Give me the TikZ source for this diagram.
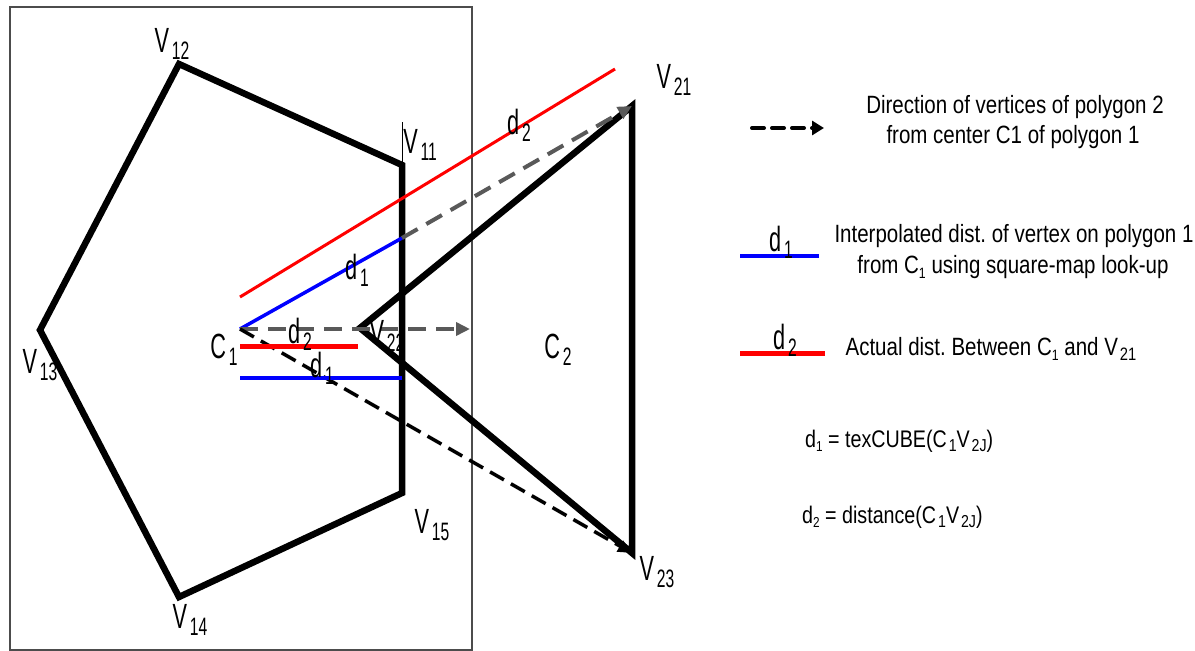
\documentclass[tikz,border=0pt]{standalone}
\usepackage{fontspec}
\setmainfont{Liberation Sans}[FakeStretch=0.82]
\newfontfamily\lblfont{Liberation Sans}[FakeStretch=0.62]
\usetikzlibrary{arrows.meta}
\frenchspacing
\newcommand\lsub[1]{\kern0.08em\raisebox{-0.2em}{\scalebox{0.72}{#1}}}
\newcommand\tsub[1]{\raisebox{-0.2em}{\scalebox{0.6}{#1}}}
\begin{document}
\begin{tikzpicture}[x=1pt,y=-1pt,
  poly/.style={line width=6.5pt,line join=miter,black},
  lbl/.style={font=\lblfont\fontsize{35}{38}\selectfont,inner sep=0pt},
  ltxt/.style={font=\fontsize{25}{28}\selectfont,inner sep=0pt,anchor=base},
  ftxt/.style={font=\fontsize{24}{28}\selectfont,inner sep=0pt,anchor=base west},
  graydash/.style={draw=black!65,line width=4pt,dash pattern=on 18pt off 10pt,-{Triangle[length=14pt,width=13pt]}},
  blackdash/.style={draw=black,line width=3.5pt,dash pattern=on 16pt off 8pt,-{Triangle[length=14pt,width=12pt]}},
  redl/.style={draw=red,line width=3pt},
  bluel/.style={draw=blue,line width=3.5pt}]
\useasboundingbox (0,0) rectangle (1195,651);
\fill[white] (0,0) rectangle (1195,651);
% frame
\draw[black!70,line width=1.2pt] (10,7) rectangle (472,650);
% coordinates
\coordinate (V11) at (402,165);
\coordinate (V12) at (179,64);
\coordinate (V13) at (40,330);
\coordinate (V14) at (179,597);
\coordinate (V15) at (402,493);
\coordinate (V21) at (632,106);
\coordinate (V22) at (360,328);
\coordinate (V23) at (632,553);
\coordinate (C1) at (240,329);
\coordinate (B1) at (402,238);
\coordinate (H1) at (470,329);
\coordinate (R1) at (240,297);
\coordinate (R2) at (615,69);
\coordinate (RH1) at (240,346);
\coordinate (RH2) at (358,346);
\coordinate (BH1) at (240,378);
\coordinate (BH2) at (402,378);
\coordinate (T1) at (402,122);
% polygons
\draw[poly] (V11)--(V12)--(V13)--(V14)--(V15)--cycle;
\draw[poly] (V21)--(V22)--(V23)--cycle;
\draw[black,line width=0.8pt] (T1)--(V11);
% distance lines
\draw[redl] (R1)--(R2);
\draw[bluel] (C1)--(B1);
\draw[graydash] (B1)--(V21);
\draw[graydash] (C1)--(H1);
\draw[blackdash] (C1)--(V23);
\draw[draw=red,line width=5pt] (RH1)--(RH2);
\draw[bluel] (BH1)--(BH2);
% labels
\node[lbl] (lV12) at (172,44) {V\lsub{12}};
\node[lbl] (lV11) at (420,145) {V\lsub{11}};
\node[lbl] (lV13) at (40,365) {V\lsub{13}};
\node[lbl] (lV14) at (190,620) {V\lsub{14}};
\node[lbl] (lV15) at (432,525) {V\lsub{15}};
\node[lbl] (lV21) at (674,80) {V\lsub{21}};
\node[lbl] (lV22) at (387,336) {V\lsub{22}};
\node[lbl] (lV23) at (657,572) {V\lsub{23}};
\node[lbl] (lC1) at (224,350) {C\lsub{1}};
\node[lbl] (lC2) at (558,350) {C\lsub{2}};
\node[lbl] (ld2a) at (519,125) {d\lsub{2}};
\node[lbl] (ld1a) at (357,270) {d\lsub{1}};
\node[lbl] (ld2b) at (300,334) {d\lsub{2}};
\node[lbl] (ld1b) at (322,368) {d\lsub{1}};
% legend
\coordinate (LA1) at (752,128);
\coordinate (LA2) at (824,128);
\draw[black,line width=4pt,dash pattern=on 12pt off 8pt,line cap=round,-{Triangle[length=12pt,width=14pt]}] (LA1)--(LA2);
\node[ltxt] (t1a) at (1015,113) {Direction of vertices of polygon 2};
\node[ltxt] (t1b) at (1013,143) {from center C1 of polygon 1};
\coordinate (LB1) at (740,256);
\coordinate (LB2) at (819,256);
\draw[bluel,line width=4pt] (LB1)--(LB2);
\node[lbl] (ld1c) at (781,242) {d\lsub{1}};
\node[ltxt] (t2a) at (1014,242) {Interpolated dist. of vertex on polygon 1};
\node[ltxt] (t2b) at (1013,273) {from C\tsub{1} using square-map look-up};
\coordinate (LR1) at (740,353);
\coordinate (LR2) at (825,353);
\draw[draw=red,line width=5pt] (LR1)--(LR2);
\node[lbl] (ld2c) at (785,340) {d\lsub{2}};
\node[ltxt] (t3) at (991,355) {Actual dist. Between C\tsub{1} and V\lsub{21}};
\node[ftxt] (f1) at (805,447) {d\tsub{1} = texCUBE(C\lsub{1}V\lsub{2J})};
\node[ftxt] (f2) at (802,523) {d\tsub{2} = distance(C\lsub{1}V\lsub{2J})};
\end{tikzpicture}
\end{document}
